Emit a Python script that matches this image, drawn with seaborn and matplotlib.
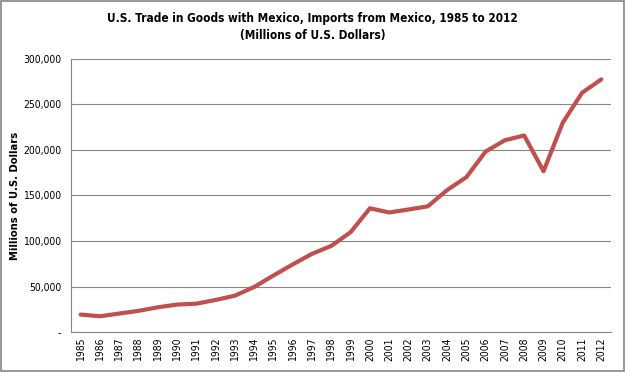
import matplotlib
matplotlib.use("Agg")
import matplotlib.pyplot as plt
import matplotlib.ticker as mticker
import numpy as np
import pandas as pd
import seaborn as sns

# imports from Mexico, millions of US dollars
years = [str(y) for y in range(1985, 2013)]
imports = [19132, 17302, 20271, 23260, 27162, 30157, 31130, 35211, 39917, 49494,
           62101, 74297, 85938, 94629, 109721, 135926, 131338, 134616, 138060,
           155902, 170109, 198253, 210714, 215942, 176654, 229986, 262874, 277594]
y_ticks = [0, 50000, 100000, 150000, 200000, 250000, 300000]

df = pd.DataFrame({"year": years, "imports": imports})
df["pos"] = np.arange(len(years))

sns.set_style("white")
plt.rcParams["font.family"] = ["DejaVu Sans"]
plt.rcParams["font.stretch"] = "condensed"
plt.rcParams["text.color"] = "black"
plt.rcParams["xtick.labelcolor"] = "black"
plt.rcParams["ytick.labelcolor"] = "black"
plt.rcParams["axes.labelcolor"] = "black"

fig = plt.figure(figsize=(6.25, 3.72), dpi=100)
ax = fig.add_axes([0.1136, 0.1075, 0.864, 0.734])

sns.lineplot(data=df, x="pos", y="imports", color="#C0504D", linewidth=3.0,
             ax=ax, sort=False)

ax.set_xlim(-0.5, len(years) - 0.5)
ax.set_ylim(0, 300000)
ax.set_yticks(y_ticks)
ax.yaxis.set_major_formatter(mticker.FuncFormatter(lambda v, p: "-" if v == 0 else f"{int(v):,}"))
ax.set_xticks(df["pos"])
ax.set_xticklabels(years, rotation=90)
ax.set_xticks(np.arange(-0.5, len(years), 1), minor=True)
ax.tick_params(axis="x", which="major", length=0, labelsize=7.5, pad=4)
ax.tick_params(axis="x", which="minor", length=4, width=0.8, color="#868686", direction="out")
ax.tick_params(axis="y", length=4, width=0.8, color="#868686", labelsize=7.5, pad=3, direction="out")
ax.grid(axis="y", color="#868686", linewidth=0.8)
ax.set_axisbelow(True)

for s in ["top", "right"]:
    ax.spines[s].set_visible(False)
for s in ["left", "bottom"]:
    ax.spines[s].set_color("#868686")
    ax.spines[s].set_linewidth(0.8)

ax.set_xlabel("")
ax.set_ylabel("Millions of U.S. Dollars", fontsize=8, fontweight="bold")
ax.yaxis.set_label_coords(-0.094, 0.5)

fig.text(0.5, 0.927, "U.S. Trade in Goods with Mexico, Imports from Mexico, 1985 to 2012\n(Millions of U.S. Dollars)",
         ha="center", va="center", fontsize=8.5, fontweight="bold", linespacing=1.35)

fig.patches.append(plt.Rectangle((0.002, 0.003), 0.996, 0.994, transform=fig.transFigure,
                                 fill=False, edgecolor="#868686", linewidth=1.2))

fig.savefig("out.png", dpi=100)
